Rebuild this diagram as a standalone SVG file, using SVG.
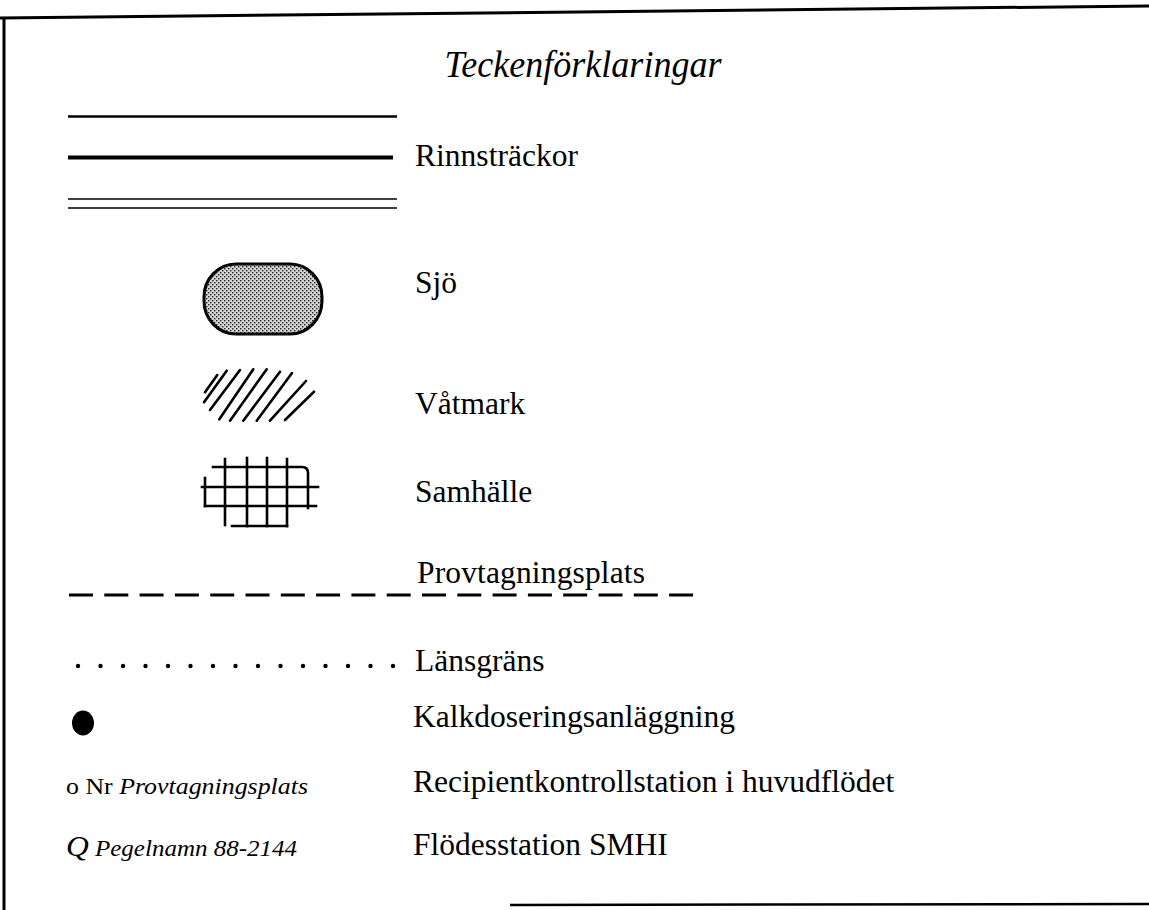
<svg xmlns="http://www.w3.org/2000/svg" width="1149" height="910" viewBox="0 0 1149 910">
<style>
.lbl{font-family:"Liberation Serif","Times New Roman",serif;font-size:31.5px;fill:#000}
.small{font-family:"Liberation Serif","Times New Roman",serif;font-size:23px;fill:#000}
.ln{stroke:#000;fill:none;stroke-linecap:butt}
.hatch{stroke:#000;stroke-width:2.6;stroke-linecap:round;fill:none}
.grid{stroke:#000;stroke-width:2.6;stroke-linecap:square;fill:none}
.dot{fill:#000}
</style>
<defs>
<pattern id="stip" width="4" height="4" patternUnits="userSpaceOnUse">
<rect width="4" height="4" fill="#d4d4d4"/>
<rect x="0" y="0" width="1.4" height="1.4" fill="#222"/>
<rect x="2" y="2" width="1.4" height="1.4" fill="#222"/>
</pattern>
</defs>
<rect width="1149" height="910" fill="#fff"/>
<g id="frame">
<line class="ln" x1="0" y1="18" x2="1149" y2="6" stroke-width="3"/>
<line class="ln" x1="4" y1="17" x2="4" y2="910" stroke-width="3"/>
<line class="ln" x1="510" y1="905" x2="1149" y2="904" stroke-width="2.5"/>
</g>
<g id="title">
<text x="583" y="77" text-anchor="middle" font-family="'Liberation Serif','Times New Roman',serif" font-style="italic" font-size="38" textLength="277" lengthAdjust="spacingAndGlyphs">Teckenförklaringar</text>
</g>
<g id="rinnstrackor">
<line class="ln" x1="68" y1="116.5" x2="397" y2="116.5" stroke-width="2.5"/>
<line class="ln" x1="68" y1="157.5" x2="393" y2="157.5" stroke-width="4"/>
<line class="ln" x1="68" y1="199" x2="397" y2="199" stroke-width="1.6"/>
<line class="ln" x1="68" y1="208" x2="397" y2="208" stroke-width="1.6"/>
<text class="lbl" x="415" y="166" textLength="163">Rinnsträckor</text>
</g>
<g id="sjo">
<rect x="204" y="264" width="118" height="70" rx="32" ry="33" fill="url(#stip)" stroke="#000" stroke-width="3"/>
<text class="lbl" x="415" y="293">Sjö</text>
</g>
<g id="vatmark">
<line class="hatch" x1="205" y1="392.3" x2="217.3" y2="375"/>
<line class="hatch" x1="204" y1="402.3" x2="226.7" y2="370.7"/>
<line class="hatch" x1="210" y1="410" x2="240" y2="370"/>
<line class="hatch" x1="219.3" y1="419.3" x2="253.3" y2="369.3"/>
<line class="hatch" x1="230" y1="420.7" x2="266.7" y2="369.3"/>
<line class="hatch" x1="243.3" y1="420.7" x2="280" y2="371.7"/>
<line class="hatch" x1="256.7" y1="420.7" x2="292" y2="373"/>
<line class="hatch" x1="270" y1="420.7" x2="306" y2="381"/>
<line class="hatch" x1="285" y1="420" x2="314" y2="391.7"/>
<text class="lbl" x="415" y="414">Våtmark</text>
</g>
<g id="samhalle">
<path class="grid" d="M213 467 H302 Q308 467 308 473 V508"/>
<line class="grid" x1="202" y1="487" x2="318" y2="487"/>
<line class="grid" x1="205" y1="506" x2="316" y2="506"/>
<line class="grid" x1="232" y1="526" x2="287" y2="526"/>
<line class="grid" x1="205" y1="478" x2="205" y2="506"/>
<line class="grid" x1="225" y1="459" x2="225" y2="525"/>
<line class="grid" x1="247" y1="458" x2="247" y2="526"/>
<line class="grid" x1="267" y1="458" x2="267" y2="526"/>
<line class="grid" x1="287" y1="459" x2="287" y2="526"/>
<text class="lbl" x="415" y="502">Samhälle</text>
</g>
<g id="provtagningsplats">
<line class="ln" x1="69" y1="595" x2="696" y2="595" stroke-width="3" stroke-dasharray="24 11.3"/>
<text class="lbl" x="417" y="583" textLength="228">Provtagningsplats</text>
</g>
<g id="lansgrans">
<g class="dot">
<circle cx="78" cy="666" r="2.2"/><circle cx="100.5" cy="666" r="2.2"/><circle cx="123" cy="666" r="2.2"/><circle cx="145.5" cy="666" r="2.2"/><circle cx="168" cy="666" r="2.2"/>
<circle cx="190.5" cy="666" r="2.2"/><circle cx="213" cy="666" r="2.2"/><circle cx="235.5" cy="666" r="2.2"/><circle cx="258" cy="666" r="2.2"/><circle cx="280.5" cy="666" r="2.2"/>
<circle cx="303" cy="666" r="2.2"/><circle cx="325.5" cy="666" r="2.2"/><circle cx="348" cy="666" r="2.2"/><circle cx="370.5" cy="666" r="2.2"/><circle cx="393" cy="666" r="2.2"/>
</g>
<text class="lbl" x="415" y="671">Länsgräns</text>
</g>
<g id="kalk">
<ellipse cx="83" cy="723" rx="11" ry="12.5" fill="#000"/>
<text class="lbl" x="413" y="727">Kalkdoseringsanläggning</text>
</g>
<g id="recipient">
<text class="small" x="66" y="794" textLength="242" lengthAdjust="spacingAndGlyphs">o Nr <tspan font-style="italic">Provtagningsplats</tspan></text>
<text class="lbl" x="413" y="792">Recipientkontrollstation i huvudflödet</text>
</g>
<g id="flodes">
<text class="small" x="66" y="856" textLength="231" lengthAdjust="spacingAndGlyphs"><tspan font-style="italic" font-size="29">Q</tspan> <tspan font-style="italic">Pegelnamn 88-2144</tspan></text>
<text class="lbl" x="413" y="855">Flödesstation SMHI</text>
</g>
</svg>
